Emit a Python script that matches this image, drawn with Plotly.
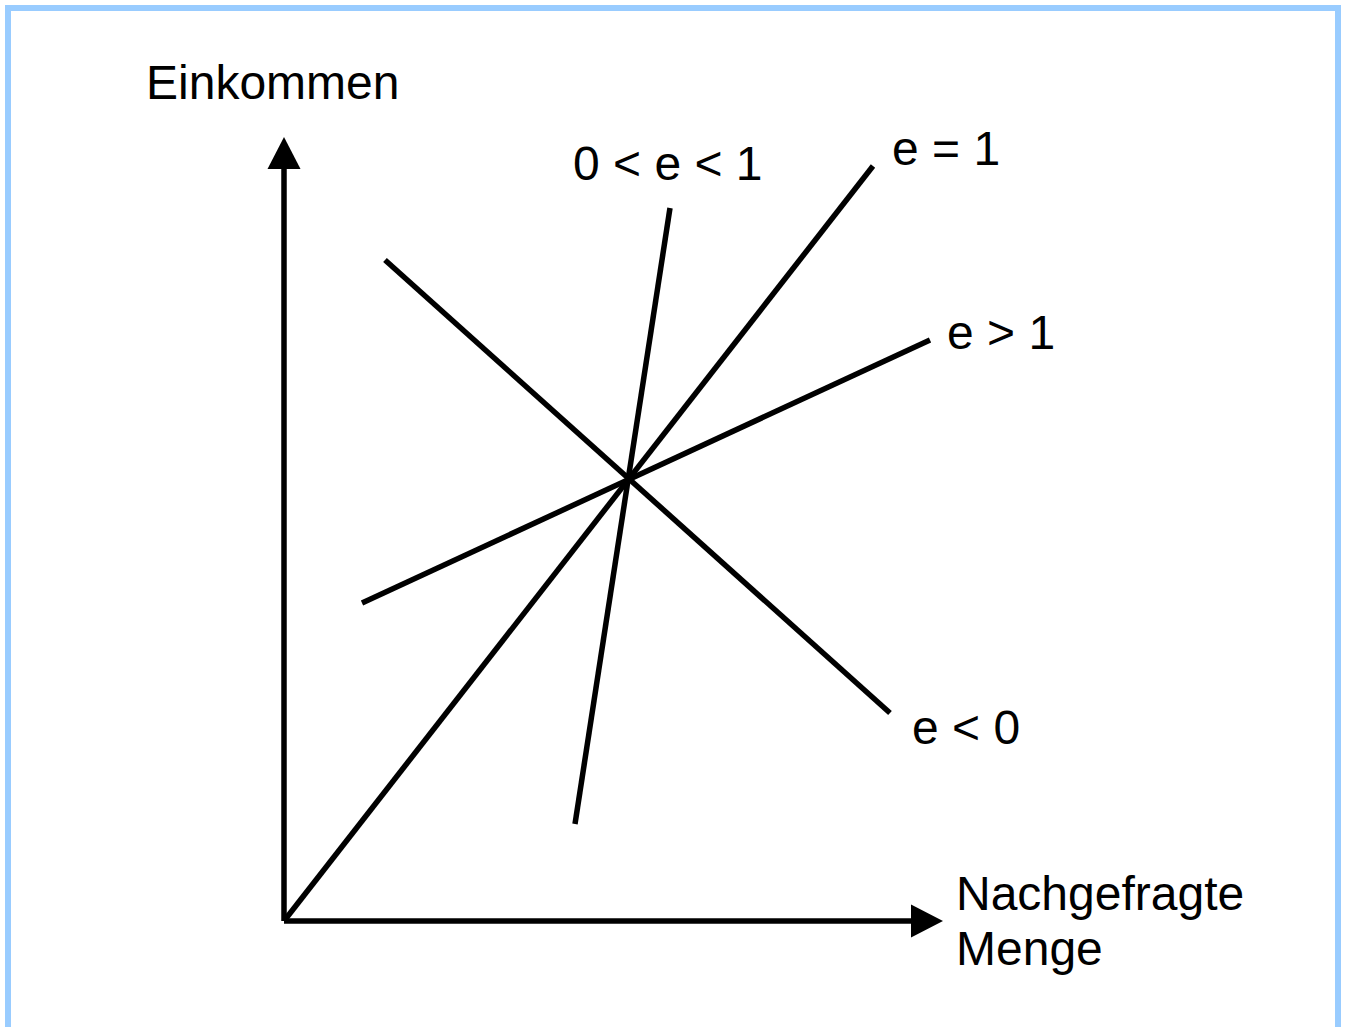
import plotly.graph_objects as go

# Koordinaten in Bildpunkten relativ zum Ursprung (Achsenkreuz)
curve_names = ["e = 1", "0 < e < 1", "e > 1", "e < 0"]
curve_x0 = [0, 291, 78, 101]
curve_y0 = [0, 97, 318, 661]
curve_x1 = [589, 386, 646, 606]
curve_y1 = [755, 713, 581, 208]

label_texts = ["e = 1", "0 < e < 1", "e > 1", "e < 0"]
label_x = [606, 384, 661, 626]
label_y = [773, 758, 589, 194]
label_anchor = ["left", "center", "left", "left"]

axis_len_x = 659
axis_len_y = 784
y_title = "Einkommen"
x_title = ["Nachgefragte", "Menge"]

W, H = 1346, 1027
OX, OY = 284, 921  # Ursprung in Pixeln
HEAD_LEN, HEAD_HALF = 32, 16.5
FONT = dict(family="Liberation Sans, Arial, sans-serif", size=48, color="black")

fig = go.Figure()

# Achsen
fig.add_trace(go.Scatter(
    x=[0, 0], y=[0, axis_len_y - HEAD_LEN], mode="lines",
    line=dict(color="black", width=5.5), hoverinfo="skip"))
fig.add_trace(go.Scatter(
    x=[0, axis_len_x - HEAD_LEN], y=[0, 0], mode="lines",
    line=dict(color="black", width=5.5), hoverinfo="skip"))

# Pfeilspitzen
fig.add_trace(go.Scatter(
    x=[-HEAD_HALF, HEAD_HALF, 0, -HEAD_HALF],
    y=[axis_len_y - HEAD_LEN, axis_len_y - HEAD_LEN, axis_len_y, axis_len_y - HEAD_LEN],
    mode="lines", fill="toself", fillcolor="black",
    line=dict(color="black", width=0), hoverinfo="skip"))
fig.add_trace(go.Scatter(
    x=[axis_len_x - HEAD_LEN, axis_len_x - HEAD_LEN, axis_len_x, axis_len_x - HEAD_LEN],
    y=[-HEAD_HALF, HEAD_HALF, 0, -HEAD_HALF],
    mode="lines", fill="toself", fillcolor="black",
    line=dict(color="black", width=0), hoverinfo="skip"))

# Engel-Kurven
for name, x0, y0, x1, y1 in zip(curve_names, curve_x0, curve_y0, curve_x1, curve_y1):
    fig.add_trace(go.Scatter(
        x=[x0, x1], y=[y0, y1], mode="lines", name=name,
        line=dict(color="black", width=5.5), hoverinfo="skip"))

for text, x, y, anchor in zip(label_texts, label_x, label_y, label_anchor):
    fig.add_annotation(x=x, y=y, text=text, showarrow=False,
                       xanchor=anchor, yanchor="middle", font=FONT)

fig.add_annotation(x=-12, y=839, text=y_title, showarrow=False,
                   xanchor="center", yanchor="middle", font=FONT)
fig.add_annotation(x=670, y=28, text=x_title[0], showarrow=False,
                   xanchor="left", yanchor="middle", font=FONT)
fig.add_annotation(x=670, y=-27, text=x_title[1], showarrow=False,
                   xanchor="left", yanchor="middle", font=FONT)

# hellblauer Rahmen
fig.add_shape(type="rect", xref="paper", yref="paper",
              x0=8 / W, x1=1338 / W, y0=-0.05, y1=1 - 8 / H,
              line=dict(color="#99CCFF", width=6))

fig.update_xaxes(range=[-OX, W - OX], visible=False, fixedrange=True)
fig.update_yaxes(range=[OY - H, OY], visible=False, fixedrange=True)
fig.update_layout(
    width=W, height=H, showlegend=False,
    margin=dict(l=0, r=0, t=0, b=0),
    paper_bgcolor="white", plot_bgcolor="white",
)

fig.write_html("out.html", config={"displayModeBar": False},
               post_script="document.body.style.margin = '0';")
